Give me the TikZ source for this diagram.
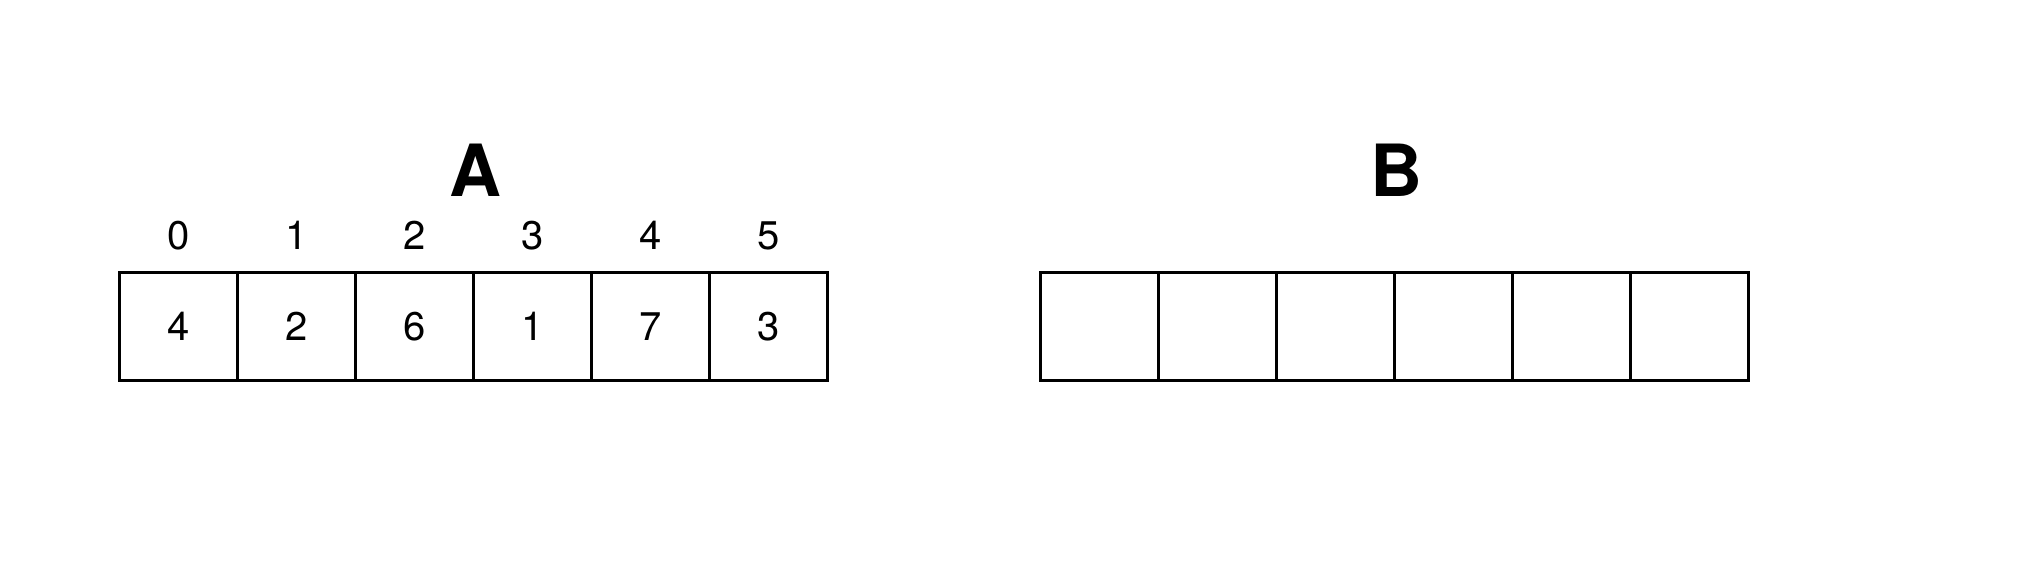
\documentclass[tikz,border=0pt]{standalone}
\usepackage{fontspec}
\setmainfont{TeX Gyre Heros}
\begin{document}
\begin{tikzpicture}[x=1pt,y=-1pt,
  cell/.style={draw=black,line width=3pt,minimum width=118pt,minimum height=107.8pt,inner sep=0pt,outer sep=0pt,font=\fontsize{40}{44}\selectfont},
  idx/.style={anchor=base,inner sep=0pt,font=\fontsize{40}{44}\selectfont},
  title/.style={anchor=base,inner sep=0pt,font=\fontsize{72}{80}\selectfont\bfseries}]
\useasboundingbox[fill=white] (0,0) rectangle (2034,562);
% array A
\foreach \v [count=\i from 0] in {4,2,6,1,7,3} {
  \node[cell] (a\i) at ({119.7+59+118*\i},326.4) {\raisebox{-1.3pt}{\v}};
  \node[idx] (ia\i) at ({119.7+59+118*\i},249.5) {\i};
}
\node[title] (A) at (475.5,196) {A};
% array B
\foreach \i in {0,...,5} {
  \node[cell] (b\i) at ({1040+59+118*\i},326.4) {};
}
\node[title] (B) at (1396,196) {B};
\end{tikzpicture}
\end{document}
